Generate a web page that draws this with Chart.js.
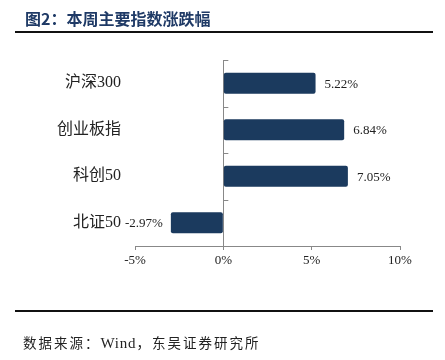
<!DOCTYPE html>
<html>
<head>
<meta charset="utf-8">
<script src="https://cdn.jsdelivr.net/npm/chart.js@4"></script>
<style>
html,body{margin:0;padding:0;background:#fff;}
#wrap{position:relative;width:445px;height:360px;overflow:hidden;}
#title{position:absolute;left:25px;top:6px;font:bold 16px "Noto Sans CJK SC","Liberation Serif",serif;color:#1f3a66;white-space:nowrap;}
.rule{position:absolute;left:15px;width:418px;height:2px;background:#111;}
#foot{position:absolute;left:23px;top:332px;font:13.5px "Liberation Serif","Noto Sans CJK SC",serif;letter-spacing:2px;color:#222;white-space:nowrap;}
#foot span{font-size:15px;letter-spacing:0.8px;}
#box{position:absolute;left:0;top:0;width:445px;height:360px;}
</style>
</head>
<body>
<div id="wrap">
<div id="box"><canvas id="chart"></canvas></div>
<div id="title">图2：本周主要指数涨跌幅</div>
<div class="rule" style="top:31px"></div>
<div class="rule" style="top:310px"></div>
<div id="foot">数据来源：<span>Wind</span>，东吴证券研究所</div>
</div>
<script>
const categories = ["沪深300","创业板指","科创50","北证50"];
const changes = [5.22, 6.84, 7.05, -2.97];
const xMin = -5, xMax = 10, xStep = 5;

const serif = '"Liberation Serif","Noto Sans CJK SC",serif';

// value labels at bar ends + small ticks on the zero line
const barLabels = {
  id:"barLabels",
  afterDatasetsDraw(chart){
    const ctx = chart.ctx;
    const meta = chart.getDatasetMeta(0);
    const xs = chart.scales.x, ys = chart.scales.y;
    ctx.save();
    ctx.font = "13px " + serif;
    ctx.fillStyle = "#222";
    ctx.textBaseline = "middle";
    meta.data.forEach((bar,i)=>{
      const v = changes[i];
      const txt = v.toFixed(2) + "%";
      if(v >= 0){
        ctx.textAlign = "left";
        ctx.fillText(txt, bar.x + 9, bar.y + 1);
      }else{
        ctx.textAlign = "right";
        ctx.fillText(txt, bar.x - 8, bar.y + 1);
      }
    });
    // category boundary ticks on the zero line
    const x0 = xs.getPixelForValue(0);
    ctx.strokeStyle = "#888";
    ctx.lineWidth = 1;
    for(let i=0;i<=categories.length;i++){
      const y = Math.round(ys.top + (ys.bottom-ys.top)*i/categories.length) + 0.5;
      ctx.beginPath();
      ctx.moveTo(x0, y);
      ctx.lineTo(x0 + 5, y);
      ctx.stroke();
    }
    ctx.restore();
  }
};

new Chart(document.getElementById("chart"),{
  type:"bar",
  data:{
    labels:categories,
    datasets:[{
      data:changes,
      backgroundColor:"#1b3a5e",
      borderColor:"#1b3a5e",
      borderWidth:0,
      borderRadius:2,
      borderSkipped:false,
      categoryPercentage:0.9,
      barPercentage:0.5
    }]
  },
  options:{
    indexAxis:"y",
    animation:false,
    responsive:true,
    maintainAspectRatio:false,
    devicePixelRatio:1,
    layout:{padding:{left:0,top:60,right:45,bottom:84}},
    plugins:{legend:{display:false},tooltip:{enabled:false}},
    scales:{
      x:{
        min:xMin,max:xMax,
        afterFit:s=>{s.height=30;},
        ticks:{stepSize:xStep,padding:3,color:"#222",font:{family:serif,size:13},
          callback:v=>v+"%"},
        border:{display:true,color:"#888"},
        grid:{
          drawOnChartArea:true,
          color:c=>(c.tick && c.tick.value===0) ? "#888" : "rgba(0,0,0,0)",
          tickColor:"#888",tickLength:4
        }
      },
      y:{
        afterFit:s=>{s.width=135;},
        ticks:{padding:14,color:"#222",font:{family:serif,size:16}},
        border:{display:false},
        grid:{display:false,drawTicks:false}
      }
    }
  },
  plugins:[barLabels]
});
</script>
</body>
</html>
